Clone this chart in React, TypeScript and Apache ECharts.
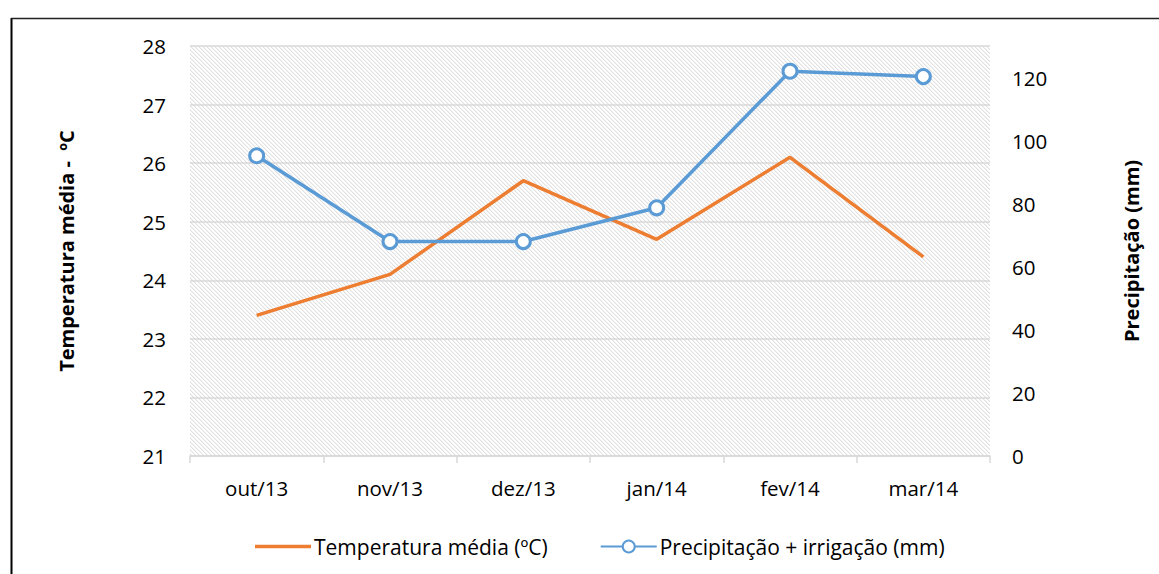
import React, { useEffect, useRef } from "react";
import * as echarts from "echarts";

const categories = ["out/13", "nov/13", "dez/13", "jan/14", "fev/14", "mar/14"];
const temperatura = [23.4, 24.1, 25.7, 24.7, 26.1, 24.4];
const precipitacao = [95.2, 68, 68, 78.7, 122, 120.3];
const leftTicks = { min: 21, max: 28, interval: 1 };
const rightTicks = { min: 0, max: 130, interval: 20 };

function makeHatch(): HTMLCanvasElement {
  const c = document.createElement("canvas");
  c.width = 4;
  c.height = 4;
  const ctx = c.getContext("2d")!;
  ctx.fillStyle = "#ffffff";
  ctx.fillRect(0, 0, 4, 4);
  for (let i = 0; i < 4; i++) {
    ctx.fillStyle = "#e0e0e0";
    ctx.fillRect(i, i, 1, 1);
    ctx.fillStyle = "#f3f3f3";
    ctx.fillRect((i + 1) % 4, i, 1, 1);
  }
  return c;
}

export default function App() {
  const ref = useRef<HTMLDivElement>(null);
  useEffect(() => {
    if (!ref.current) return;
    const chart = echarts.init(ref.current, undefined, { renderer: "svg" });
    const font = "Open Sans";
    chart.setOption({
      animation: false,
      backgroundColor: "#ffffff",
      textStyle: { fontFamily: font },
      grid: {
        left: 190,
        right: 169,
        top: 46,
        bottom: 118,
        show: true,
        borderWidth: 0,
        backgroundColor: { image: makeHatch(), repeat: "repeat" },
      },
      legend: {
        bottom: 12,
        left: 250,
        itemWidth: 56,
        itemHeight: 15,
        itemGap: 52,
        textStyle: { fontFamily: font, fontSize: 21, color: "#000", padding: [0, 0, 0, -2] },
        data: [
          { name: "Temperatura média (ºC)", icon: "path://M0,0 L56,0 L56,3.5 L0,3.5 Z" },
          { name: "Precipitação + irrigação (mm)" },
        ],
      },
      xAxis: {
        type: "category",
        data: categories,
        boundaryGap: true,
        axisLine: { show: true, lineStyle: { color: "#d9d9d9", width: 1.5 } },
        axisTick: { show: true, length: 7, lineStyle: { color: "#d9d9d9", width: 1.5 } },
        axisLabel: { color: "#000", fontSize: 20.5, margin: 21, fontFamily: font },
      },
      yAxis: [
        {
          type: "value",
          min: leftTicks.min,
          max: leftTicks.max,
          interval: leftTicks.interval,
          name: "Temperatura média -  ºC",
          nameLocation: "middle",
          nameGap: 114,
          nameTextStyle: { fontWeight: "bold", fontSize: 20, color: "#000", fontFamily: font },
          axisLine: { show: false },
          axisTick: { show: false },
          axisLabel: { color: "#000", fontSize: 20.5, margin: 24, fontFamily: font },
          splitLine: { show: true, lineStyle: { color: "#d9d9d9", width: 1.5 } },
        },
        {
          type: "value",
          min: rightTicks.min,
          max: rightTicks.max,
          interval: rightTicks.interval,
          name: "Precipitação (mm)",
          nameLocation: "middle",
          nameGap: 131,
          nameRotate: 90,
          nameTextStyle: { fontWeight: "bold", fontSize: 20, color: "#000", fontFamily: font },
          axisLine: { show: false },
          axisTick: { show: false },
          axisLabel: { color: "#000", fontSize: 20.5, margin: 22, fontFamily: font, showMaxLabel: false },
          splitLine: { show: false },
        },
      ],
      series: [
        {
          name: "Temperatura média (ºC)",
          type: "line",
          data: temperatura,
          yAxisIndex: 0,
          symbol: "none",
          lineStyle: { color: "#ED7D31", width: 3.5 },
          itemStyle: { color: "#ED7D31" },
          z: 2,
        },
        {
          name: "Precipitação + irrigação (mm)",
          type: "line",
          data: precipitacao,
          yAxisIndex: 1,
          symbol: "circle",
          symbolSize: 14,
          lineStyle: { color: "#5B9BD5", width: 3.5 },
          itemStyle: { color: "#ffffff", borderColor: "#5B9BD5", borderWidth: 3 },
          z: 3,
        },
      ],
      graphic: [
        {
          type: "line",
          shape: { x1: 11.5, y1: 18, x2: 11.5, y2: 574 },
          style: { stroke: "#000", lineWidth: 2 },
        },
        {
          type: "line",
          shape: { x1: 11, y1: 18.5, x2: 1159, y2: 18.5 },
          style: { stroke: "#222", lineWidth: 1.5 },
        },
      ],
    });
    return () => chart.dispose();
  }, []);
  return (
    <div
      ref={ref}
      style={{ position: "fixed", left: 0, top: 0, width: 1159, height: 574 }}
    />
  );
}
